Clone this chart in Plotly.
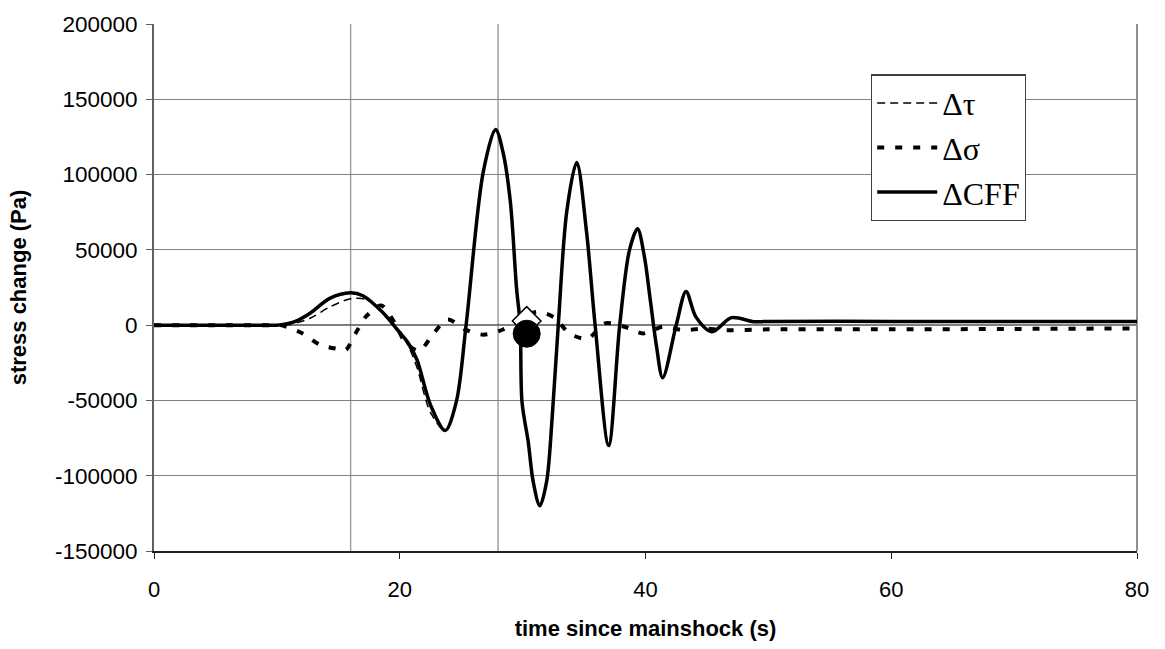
import plotly.graph_objects as go

# ---------------- data ----------------
t_cff = [0, 5, 10, 10.5, 11.5, 12.7, 14.3, 16.0, 17.0, 18.6, 19.9, 20.7, 21.4, 22.5, 23.7,
         24.6, 25.4, 26.8, 27.8, 28.4, 29.0, 29.5, 29.8, 29.95, 30.46, 30.86, 31.4, 31.95, 32.4, 32.9,
         33.6, 34.4, 35.2, 35.9, 37.0, 37.9, 38.7, 39.35, 39.9, 40.4, 40.9, 41.4, 42.5, 43.3,
         44.1, 45.4, 47.0, 48.8, 50, 60, 70, 80]
cff = [0, 0, 0, 500, 2500, 7900, 17800, 21500, 19500, 8500, -4000, -12000, -23000, -53000, -70000,
       -51000, 0, 102000, 130000, 115000, 82000, 25000, 0, -51000, -77800, -104000, -120000, -104000, -62000, 0,
       76000, 108000, 62000, 0, -80000, 0, 50000, 64000, 46000, 16000, -14300, -35000, 0, 22400,
       5500, -4400, 5000, 2300, 2500, 2500, 2500, 2500]

t_tau = [0, 5, 10, 11, 12.7, 14.3, 16.0, 17.3, 18.6, 19.9, 20.7, 21.4, 22.5, 23.7,
         24.6, 25.4, 26.8, 27.8, 28.4, 29.0, 29.5, 29.8, 29.95, 30.46, 30.86, 31.4, 31.95, 32.4, 32.9,
         33.6, 34.4, 35.2, 35.9, 37.0, 37.9, 38.7, 39.35, 39.9, 40.4, 40.9, 41.4, 42.5, 43.3,
         44.1, 45.4, 47.0, 48.8, 50, 60, 70, 80]
tau = [0, 0, 0, 300, 4600, 12000, 17500, 17000, 9000, -3000, -14000, -28000, -58000, -70000,
       -51000, 0, 101000, 129000, 114000, 81000, 24000, 0, -50000, -77000, -103000, -119000, -103000, -61000, 0,
       75000, 107000, 61000, 0, -79000, 0, 49500, 63500, 45500, 16000, -14000, -34500, 0, 22000,
       5500, -4000, 5000, 2600, 2800, 2800, 2800, 2800]

t_sig = [0, 5, 10, 10.3, 12.1, 13.5, 15.1, 15.6, 16.4, 17.3, 18.5, 19.6, 20.5, 21.6, 22.7,
         23.9, 25.3, 26.8, 28.4, 31.1, 32.6, 33.8, 35.3, 36.7, 38.3, 39.8, 41.4, 43.1, 44.8,
         46.3, 50, 60, 70, 80]
sig = [0, 0, 0, 0, -5500, -13000, -16000, -16500, -5500, 6100, 13000, 1300, -12000, -17000, -6000,
       3800, -2800, -6300, -2900, 8800, 5000, -5500, -9000, 1200, -1100, -5500, -1100, -3300, -2200,
       -3300, -2800, -2800, -2500, -2200]

marker_t = [30.33]
diamond_val = [2800]
circle_val = [-5700]

ref_times = [16, 28]

names = ["\u0394\u03c4", "\u0394\u03c3", "\u0394CFF"]

x_ticks = [0, 20, 40, 60, 80]
y_ticks = [-150000, -100000, -50000, 0, 50000, 100000, 150000, 200000]

# ---------------- figure ----------------
fig = go.Figure()

fig.add_trace(go.Scatter(x=t_tau, y=tau, mode="lines", name=names[0],
                         line=dict(color="black", width=1.5, dash="8px,5px", shape="spline", smoothing=0.9)))
fig.add_trace(go.Scatter(x=t_sig, y=sig, mode="lines", name=names[1],
                         line=dict(color="black", width=4, dash="7px,11px", shape="spline", smoothing=0.8)))
fig.add_trace(go.Scatter(x=t_cff, y=cff, mode="lines", name=names[2],
                         line=dict(color="black", width=3.5, shape="spline", smoothing=0.9)))
fig.add_trace(go.Scatter(x=marker_t, y=diamond_val, mode="markers", showlegend=False,
                         marker=dict(symbol="diamond", size=22, color="white",
                                     line=dict(color="black", width=1.5))))
fig.add_trace(go.Scatter(x=marker_t, y=circle_val, mode="markers", showlegend=False,
                         marker=dict(symbol="circle", size=27, color="black",
                                     line=dict(color="black", width=1))))

for rt in ref_times:
    fig.add_shape(type="line", xref="x", yref="paper", x0=rt, x1=rt, y0=0, y1=1,
                  line=dict(color="#a0a0a0", width=1.5), layer="below")

# zero line and right frame
fig.add_shape(type="line", xref="paper", yref="y", x0=0, x1=1, y0=0, y1=0,
              line=dict(color="black", width=1.5), layer="below")
fig.add_shape(type="line", xref="paper", yref="paper", x0=1, x1=1, y0=0, y1=1,
              line=dict(color="#909090", width=2), layer="below")

fig.update_layout(
    width=1165, height=649,
    margin=dict(l=154, r=28, t=20, b=96),
    paper_bgcolor="white", plot_bgcolor="white",
    font=dict(family="Liberation Sans, Arial, sans-serif", color="black", size=22),
    showlegend=True,
    legend=dict(x=0.7294, y=0.9044, xanchor="left", yanchor="top",
                bgcolor="white", bordercolor="#404040", borderwidth=1.2,
                font=dict(family="Liberation Serif, Times New Roman, serif", size=32, color="black"),
                itemwidth=60, tracegroupgap=0),
)

fig.update_xaxes(range=[0, 80], tickvals=x_ticks, ticktext=[str(v) for v in x_ticks],
                 showgrid=False, zeroline=False, showline=True, linecolor="#202020", linewidth=1.5,
                 ticks="outside", ticklen=6, tickcolor="#202020", tickwidth=1.2,
                 tickfont=dict(size=22), ticklabelstandoff=12,
                 title=dict(text="<b>time since mainshock (s)</b>", font=dict(size=22), standoff=19))
fig.update_yaxes(range=[-150000, 200000], tickvals=y_ticks, ticktext=[str(v) for v in y_ticks],
                 showgrid=True, gridcolor="#808080", gridwidth=1.2, zeroline=False,
                 showline=True, linecolor="#606060", linewidth=2,
                 ticks="outside", ticklen=6, tickcolor="#606060", tickwidth=1.2,
                 tickfont=dict(size=22.5), ticklabelstandoff=4,
                 title=dict(text="<b>stress change (Pa)</b>", font=dict(size=22), standoff=22))

fig.write_html("out.html")
